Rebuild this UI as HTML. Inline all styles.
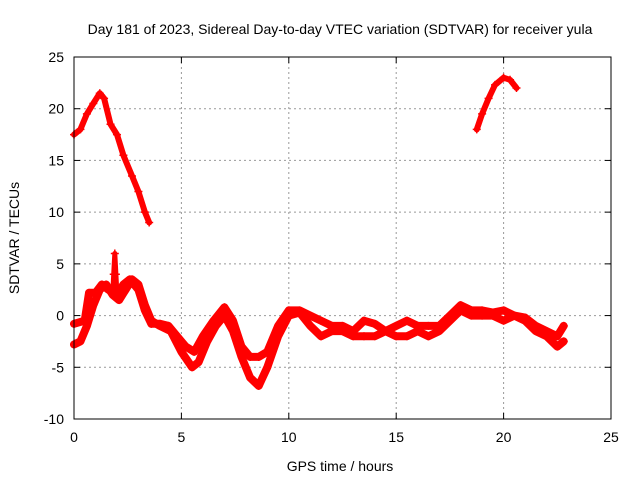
<!DOCTYPE html>
<html><head><meta charset="utf-8"><style>
body{margin:0;background:#fff;}
svg{display:block;font-family:"Liberation Sans",sans-serif;}
</style></head><body>
<svg id="chart" width="640" height="480">
<text x="340" y="34" text-anchor="middle" font-size="14">Day 181 of 2023, Sidereal Day-to-day VTEC variation (SDTVAR) for receiver yula</text>
<text x="340" y="471" text-anchor="middle" font-size="14">GPS time / hours</text>
<text transform="translate(19,238) rotate(-90)" text-anchor="middle" font-size="14">SDTVAR / TECUs</text>
<g id="grid"></g><g id="marks"></g>
<rect x="74" y="57" width="537" height="362" fill="none" stroke="#000" stroke-width="1"/>
<g id="ticks"></g>
</svg>
<script>
const xTicks=[0,5,10,15,20,25];
const yTicks=[-10,-5,0,5,10,15,20,25];
const tA=[0,0.3,0.6,0.9,1.2,1.5,1.8,2.1,2.4,2.7,3.0,3.3,3.6,4.0,4.5,5.0,5.5,5.8,6.2,6.6,7.0,7.4,7.8,8.2,8.6,9.0,9.5,10,10.5,11,11.5,12,12.5,13,13.5,14,14.5,15,15.5,16,16.5,17,17.5,18,18.5,19,19.5,20,20.5,21,21.5,22,22.5,22.8];
const vA=[-2.8,-2.5,-1,1,2.5,3,2,1.5,2.5,3.5,3,1,-0.5,-1,-1.5,-3.5,-5,-4.5,-2.5,-1,0,-1.5,-4,-6,-6.8,-5,-2,0,0.3,-1,-2,-1.5,-1.5,-2,-2,-2,-1.5,-2,-2,-1.5,-2,-1.5,-0.5,0.5,0,0,0,-0.5,0,-0.5,-1.5,-2,-3,-2.5];
const tB=[0,0.5,0.7,1.0,1.3,1.6,2.0,2.3,2.6,3.0,3.3,3.6,4,4.4,4.8,5.2,5.6,6,6.5,7,7.4,7.8,8.2,8.6,9,9.5,10,10.5,11,11.5,12,12.5,13,13.5,14,14.5,15,15.5,16,16.5,17,17.5,18,18.5,19,19.5,20,20.5,21,21.5,22,22.5,22.8];
const vB=[-0.8,-0.5,2.2,2.2,3,2.5,2,3,3.5,2.5,0.5,-0.8,-0.8,-1,-2,-3,-3.5,-2,-0.5,0.8,-0.5,-3,-4,-4,-3.5,-1,0.5,0.5,0,-0.5,-1,-1,-1.5,-0.5,-0.8,-1.5,-1,-0.5,-1,-1,-1,0,1,0.5,0.5,0.3,0.5,0,-0.2,-1,-1.5,-2,-1];
const tS=[1.8,1.85,1.9,1.95,2.0];
const vS=[2,4,6,4,2];
const tC=[0,0.3,0.6,0.9,1.2,1.4,1.7,2,2.3,2.7,3.0,3.3,3.5];
const vC=[17.5,18,19.5,20.5,21.5,21,18.5,17.5,15.5,13.5,12,10,9];
const tD=[18.75,19,19.3,19.6,20,20.3,20.6];
const vD=[18,19.5,21,22.3,23,22.8,22];
const NS='http://www.w3.org/2000/svg';
const px=x=>74+x*537/25, py=y=>57+(25-y)*362/35;
const grid=document.getElementById('grid'),ticks=document.getElementById('ticks'),marks=document.getElementById('marks');
function mk(tag,at,p){const e=document.createElementNS(NS,tag);for(const k in at)e.setAttribute(k,at[k]);p.appendChild(e);return e;}
xTicks.forEach(v=>{
 if(v>0&&v<25){const g=mk('line',{x1:px(v),x2:px(v),y1:57,y2:419,stroke:'#999','stroke-dasharray':'2,3'},grid);
 
 }
 const t=mk('text',{x:px(v),y:442,'text-anchor':'middle','font-size':14},ticks);t.textContent=v;
 
 
 mk('line',{x1:px(v),x2:px(v),y1:419,y2:413,stroke:'#000'},ticks);mk('line',{x1:px(v),x2:px(v),y1:57,y2:63,stroke:'#000'},ticks);
});
yTicks.forEach(v=>{
 if(v>-10&&v<25){const g=mk('line',{x1:74,x2:611,y1:py(v),y2:py(v),stroke:'#999','stroke-dasharray':'2,3'},grid);
 
 }
 const t=mk('text',{x:64,y:py(v)+5,'text-anchor':'end','font-size':14},ticks);t.textContent=v;
 
 
 mk('line',{x1:74,x2:80,y1:py(v),y2:py(v),stroke:'#000'},ticks);mk('line',{x1:611,x2:605,y1:py(v),y2:py(v),stroke:'#000'},ticks);
});
function series(ts,vs,w,name){
 const d=ts.map((t,i)=>(i?'L':'M')+px(t).toFixed(1)+','+py(vs[i]).toFixed(1)).join('');
 const p=mk('path',{d:d,fill:'none',stroke:'#f00','stroke-width':w,'stroke-linejoin':'round','stroke-linecap':'round'},marks);
 
 
 ts.forEach((t,i)=>{const x=px(t),y=py(vs[i]);
  const m=mk('path',{d:`M${x-4},${y}h8M${x},${y-4}v8`,stroke:'#f00','stroke-width':1.5},marks);
  
  });
}
series(tA,vA,8,'series-lower-band');
series(tB,vB,8,'series-upper-band');
series(tS,vS,5,'series-spike');
series(tC,vC,6,'series-early-arc');
series(tD,vD,6,'series-late-arc');
</script>
</body></html>
